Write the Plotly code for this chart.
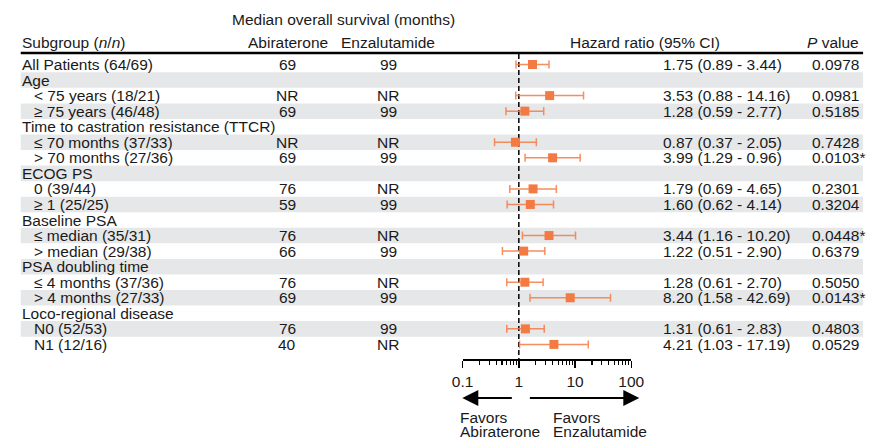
import math
import plotly.graph_objects as go

# ---------------- data ----------------
labels = [
    "All Patients (64/69)", "Age", "< 75 years (18/21)", "≥ 75 years (46/48)",
    "Time to castration resistance (TTCR)", "≤ 70 months (37/33)", "> 70 months (27/36)",
    "ECOG PS", "0 (39/44)", "≥ 1 (25/25)",
    "Baseline PSA", "≤ median (35/31)", "> median (29/38)",
    "PSA doubling time", "≤ 4 months (37/36)", "> 4 months (27/33)",
    "Loco-regional disease", "N0 (52/53)", "N1 (12/16)",
]
is_sub = [False, False, True, True, False, True, True, False, True, True,
          False, True, True, False, True, True, False, True, True]
abiraterone = ["69", "", "NR", "69", "", "NR", "69", "", "76", "59",
               "", "76", "66", "", "76", "69", "", "76", "40"]
enzalutamide = ["99", "", "NR", "99", "", "NR", "99", "", "NR", "99",
                "", "NR", "99", "", "NR", "99", "", "99", "NR"]
hr = [1.75, None, 3.53, 1.28, None, 0.87, 3.99, None, 1.79, 1.60,
      None, 3.44, 1.22, None, 1.28, 8.20, None, 1.31, 4.21]
ci_lo = [0.89, None, 0.88, 0.59, None, 0.37, 1.29, None, 0.69, 0.62,
         None, 1.16, 0.51, None, 0.61, 1.58, None, 0.61, 1.03]
ci_hi = [3.44, None, 14.16, 2.77, None, 2.05, 12.33, None, 4.65, 4.14,
         None, 10.20, 2.90, None, 2.70, 42.69, None, 2.83, 17.19]
hr_text = ["1.75 (0.89 - 3.44)", "", "3.53 (0.88 - 14.16)", "1.28 (0.59 - 2.77)", "",
           "0.87 (0.37 - 2.05)", "3.99 (1.29 - 0.96)", "", "1.79 (0.69 - 4.65)",
           "1.60 (0.62 - 4.14)", "", "3.44 (1.16 - 10.20)", "1.22 (0.51 - 2.90)", "",
           "1.28 (0.61 - 2.70)", "8.20 (1.58 - 42.69)", "", "1.31 (0.61 - 2.83)",
           "4.21 (1.03 - 17.19)"]
p_text = ["0.0978", "", "0.0981", "0.5185", "", "0.7428", "0.0103*", "", "0.2301",
          "0.3204", "", "0.0448*", "0.6379", "", "0.5050", "0.0143*", "", "0.4803", "0.0529"]
tick_vals = [0.1, 1, 10, 100]
tick_text = ["0.1", "1", "10", "100"]
minor_vals = [0.2, 0.3, 0.4, 0.5, 0.6, 0.7, 0.8, 0.9,
              2, 3, 4, 5, 6, 7, 8, 9, 20, 30, 40, 50, 60, 70, 80, 90]

# ---------------- layout constants ----------------
W, H = 878, 439
ROW0, ROWH, AXIS_Y = 64.5, 15.55, 359.0
FONT = "Liberation Sans, Arial, Helvetica, sans-serif"
FS = 15.5
TXT = "#1a1a1a"
ORANGE = "#F47A44"
BAND = "#E6E7E8"

def px(x):
    return x / W

def py(y):
    return 1 - y / H

n = len(labels)
rows = list(range(n))

fig = go.Figure()

# dashed reference line at HR = 1
fig.add_trace(go.Scatter(
    x=[1, 1], y=[(54 - ROW0) / ROWH, (AXIS_Y - ROW0) / ROWH],
    mode="lines", line=dict(color="black", width=1.5, dash="5px,3px"),
    hoverinfo="skip", showlegend=False, cliponaxis=False))

idx = [i for i in rows if hr[i] is not None]
fig.add_trace(go.Scatter(
    x=[hr[i] for i in idx], y=idx, mode="markers",
    marker=dict(symbol="square", size=9, color=ORANGE),
    error_x=dict(type="data", symmetric=False,
                 array=[ci_hi[i] - hr[i] for i in idx],
                 arrayminus=[hr[i] - ci_lo[i] for i in idx],
                 color="rgba(244,122,68,0.85)", thickness=1.5, width=4),
    hoverinfo="skip", showlegend=False, cliponaxis=False))

shapes = []
for i in rows:
    if i % 2 == 1:
        shapes.append(dict(type="rect", xref="paper", yref="y",
                           x0=px(10), x1=px(876), y0=i - 0.5, y1=i + 0.5,
                           fillcolor=BAND, line=dict(width=0), layer="below"))
shapes.append(dict(type="line", xref="paper", yref="paper",
                   x0=px(10), x1=px(876), y0=py(53), y1=py(53),
                   line=dict(color="black", width=2.5)))

ann = []
def text(x, y, s, xanchor="left", yref="y", size=FS, align="left"):
    ann.append(dict(x=x, y=y, xref="paper", yref=yref, text=s, showarrow=False,
                    xanchor=xanchor, yanchor="middle", align=align,
                    borderpad=0, borderwidth=0,
                    font=dict(family=FONT, size=size, color=TXT)))

for i in rows:
    text(px(24) if is_sub[i] else px(11), i, labels[i])
    if abiraterone[i]:
        text(px(284), i, abiraterone[i], xanchor="center")
    if enzalutamide[i]:
        text(px(388), i, enzalutamide[i], xanchor="center")
    if hr_text[i]:
        text(px(670), i, hr_text[i])
    if p_text[i]:
        text(px(823), i, p_text[i])

# headers
text(px(341.5), py(20), "Median overall survival (months)", xanchor="center", yref="paper")
text(px(11), py(42), "Subgroup (<i>n</i>/<i>n</i>)", yref="paper")
text(px(285), py(42), "Abiraterone", xanchor="center", yref="paper")
text(px(388), py(42), "Enzalutamide", xanchor="center", yref="paper")
text(px(652), py(42), "Hazard ratio (95% CI)", xanchor="center", yref="paper")
text(px(845), py(42), "<i>P</i> value", xanchor="center", yref="paper")

# favors arrows and labels
for tip, dx in [(464, 51), (646, -111)]:
    ann.append(dict(x=px(tip), y=py(398), xref="paper", yref="paper",
                    ax=dx, ay=0, axref="pixel", ayref="pixel", text="",
                    showarrow=True, arrowhead=2, arrowsize=1.6, arrowwidth=2,
                    arrowcolor="black"))
text(px(462), py(417), "Favors", yref="paper")
text(px(462), py(431.5), "Abiraterone", yref="paper")
text(px(557), py(417), "Favors", yref="paper")
text(px(557), py(431.5), "Enzalutamide", yref="paper")

fig.update_layout(
    width=W, height=H, margin=dict(l=0, r=0, t=0, b=0),
    paper_bgcolor="white", plot_bgcolor="rgba(0,0,0,0)",
    shapes=shapes, annotations=ann, showlegend=False, hovermode=False,
    xaxis=dict(type="log", range=[-1, 2], domain=[px(464.3), px(637.7)],
               showgrid=False, zeroline=False, showline=True, linecolor="black",
               linewidth=2, ticks="outside", ticklen=7, tickwidth=1.5,
               tickcolor="black", tickvals=tick_vals, ticktext=tick_text,
               tickfont=dict(family=FONT, size=FS, color=TXT),
               minor=dict(tickvals=minor_vals, ticks="outside", ticklen=4,
                          tickwidth=1.2, tickcolor="black", showgrid=False)),
    yaxis=dict(range=[(AXIS_Y - ROW0) / ROWH, -ROW0 / ROWH],
               domain=[py(AXIS_Y), 1], visible=False, showgrid=False, zeroline=False),
)

fig.write_html("out.html", config={"displayModeBar": False, "staticPlot": True},
               post_script="document.body.style.margin='0';document.body.style.overflow='hidden';")
